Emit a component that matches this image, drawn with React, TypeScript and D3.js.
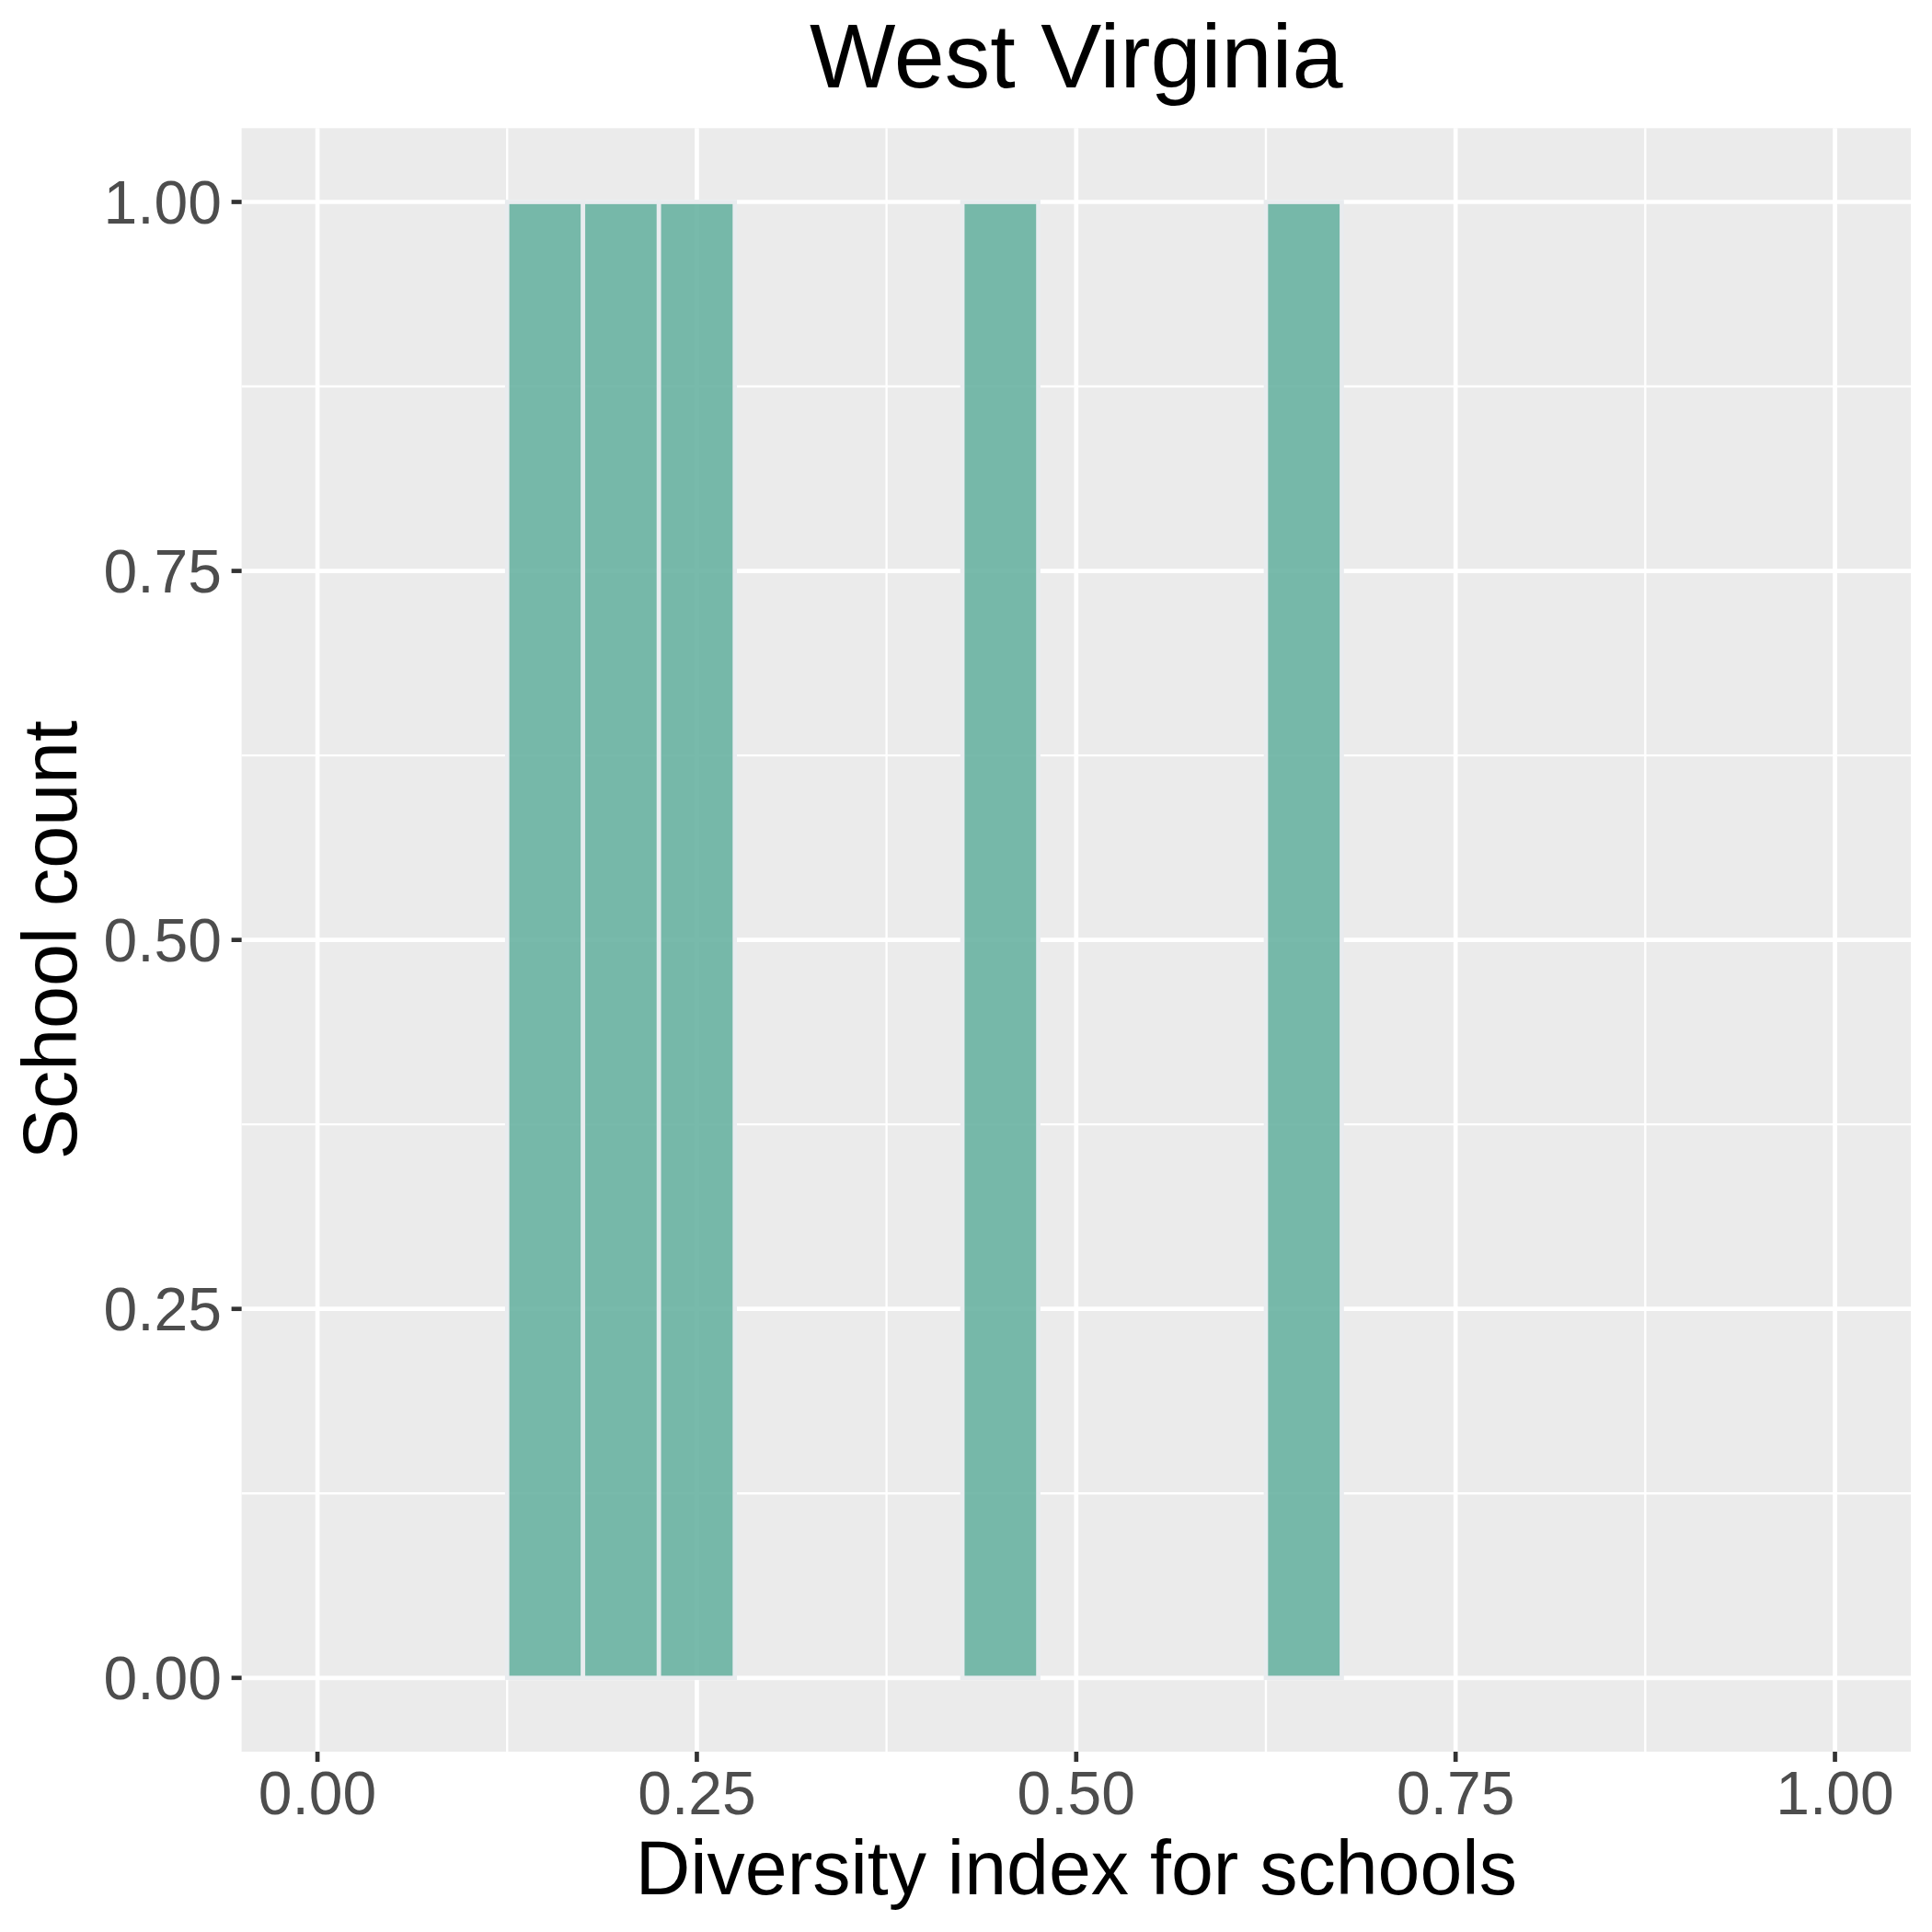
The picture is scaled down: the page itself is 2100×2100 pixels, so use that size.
import React from "react";
import * as d3 from "d3";

const title = "West Virginia";
const xLabel = "Diversity index for schools";
const yLabel = "School count";
const binStarts = [0.025, 0.075, 0.125, 0.175, 0.225, 0.275, 0.325, 0.375, 0.425, 0.475, 0.525, 0.575, 0.625, 0.675, 0.725, 0.775, 0.825, 0.875, 0.925];
const binWidth = 0.05;
const counts = [0, 0, 1, 1, 1, 0, 0, 0, 1, 0, 0, 0, 1, 0, 0, 0, 0, 0, 0];
const xTicks = [0, 0.25, 0.5, 0.75, 1];
const xMinor = [0.125, 0.375, 0.625, 0.875];
const yTicks = [0, 0.25, 0.5, 0.75, 1];
const yMinor = [0.125, 0.375, 0.625, 0.875];

export default function App() {
  const W = 2100, H = 2100;
  const L = 262.6, R = 2077, T = 139.3, B = 1904;
  const x = d3.scaleLinear().domain([-0.05, 1.05]).range([L, R]);
  const y = d3.scaleLinear().domain([-0.05, 1.05]).range([B, T]);
  const font = "'Liberation Sans', Arial, Helvetica, sans-serif";
  const majorW = 4.7, minorW = 2.35;
  const fmt = d3.format(".2f");
  const cx = (L + R) / 2;
  const cy = (T + B) / 2;
  return (
    <svg width={W} height={H} style={{ position: "absolute", left: 0, top: 0, background: "#fff" }} fontFamily={font}>
      <rect x={0} y={0} width={W} height={H} fill="#ffffff" />
      <rect x={L} y={T} width={R - L} height={B - T} fill="#ebebeb" />
      {xMinor.map((v) => (
        <line key={"xm" + v} x1={x(v)} x2={x(v)} y1={T} y2={B} stroke="#fff" strokeWidth={minorW} />
      ))}
      {yMinor.map((v) => (
        <line key={"ym" + v} y1={y(v)} y2={y(v)} x1={L} x2={R} stroke="#fff" strokeWidth={minorW} />
      ))}
      {xTicks.map((v) => (
        <line key={"xM" + v} x1={x(v)} x2={x(v)} y1={T} y2={B} stroke="#fff" strokeWidth={majorW} />
      ))}
      {yTicks.map((v) => (
        <line key={"yM" + v} y1={y(v)} y2={y(v)} x1={L} x2={R} stroke="#fff" strokeWidth={majorW} />
      ))}
      {binStarts.map((s, i) => (
        <rect
          key={"b" + i}
          x={x(s)}
          y={y(counts[i])}
          width={x(s + binWidth) - x(s)}
          height={y(0) - y(counts[i])}
          fill="#69b3a2"
          fillOpacity={0.9}
          stroke="#e9ecef"
          strokeWidth={majorW}
        />
      ))}
      {xTicks.map((v) => (
        <g key={"xt" + v}>
          <line x1={x(v)} x2={x(v)} y1={B} y2={B + 11} stroke="#333333" strokeWidth={majorW} />
          <text x={x(v)} y={1972} textAnchor="middle" fontSize={66} fill="#4d4d4d">{fmt(v)}</text>
        </g>
      ))}
      {yTicks.map((v) => (
        <g key={"yt" + v}>
          <line x1={L - 11} x2={L} y1={y(v)} y2={y(v)} stroke="#333333" strokeWidth={majorW} />
          <text x={241} y={y(v) + 23.6} textAnchor="end" fontSize={66} fill="#4d4d4d">{fmt(v)}</text>
        </g>
      ))}
      <text x={cx} y={95} textAnchor="middle" fontSize={99} fill="#000">{title}</text>
      <text x={cx} y={2059} textAnchor="middle" fontSize={82.5} fill="#000">{xLabel}</text>
      <text transform={`translate(83.3,${cy}) rotate(-90)`} textAnchor="middle" fontSize={82.5} fill="#000">{yLabel}</text>
    </svg>
  );
}
